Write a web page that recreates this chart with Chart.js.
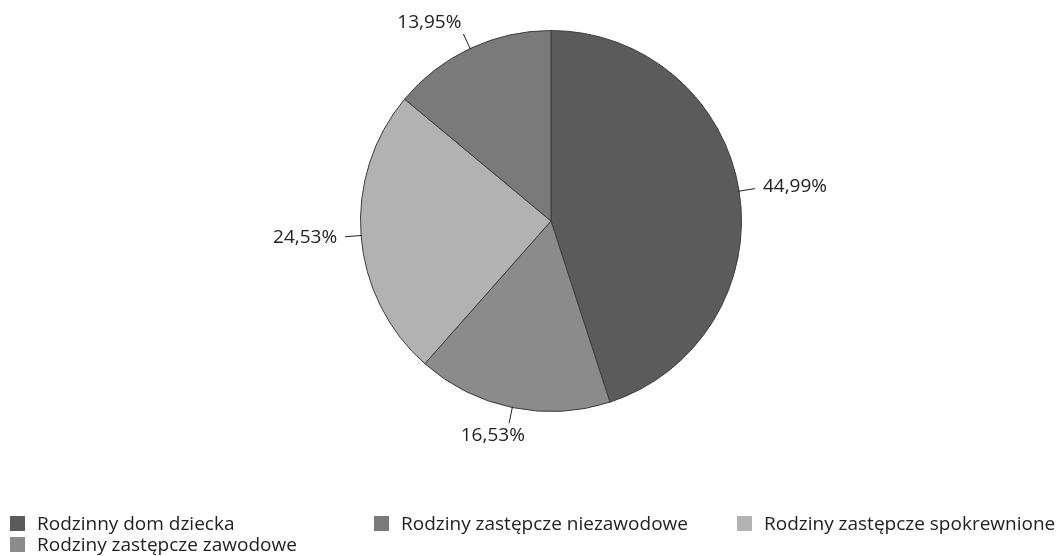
<!DOCTYPE html>
<html>
<head>
<meta charset="utf-8">
<script src="https://cdn.jsdelivr.net/npm/chart.js@4.4.1/dist/chart.umd.min.js"></script>
<style>
  html, body { margin: 0; padding: 0; background: #fff; }
  #wrap { position: relative; width: 1063px; height: 556px; }
  #legend { position: absolute; left: 10px; top: 510px; font-family: "Open Sans", sans-serif; font-size: 19px; color: #222; }
  .item { position: absolute; white-space: nowrap; display: flex; align-items: center; line-height: 26px; }
  .box { width: 15px; height: 15px; margin-right: 12px; }
</style>
</head>
<body>
<div id="wrap">
  <canvas id="pieChart" width="1063" height="556"></canvas>
  <div id="legend"></div>
</div>
<script>
// Data
const categories = ["Rodzinny dom dziecka", "Rodziny zastępcze zawodowe", "Rodziny zastępcze spokrewnione", "Rodziny zastępcze niezawodowe"];
const shares = [44.99, 16.53, 24.53, 13.95];
const sliceColors = ["#5b5b5b", "#8b8b8b", "#b2b2b2", "#7a7a7a"];

// legend order and grid placement as in the scan
const legendOrder = [0, 3, 2, 1];
const legendPos = [[0, 0], [364, 0], [727, 0], [0, 21]];

// Leader lines + percentage labels
const pctLabels = {
    id: "pctLabels",
    afterDatasetsDraw(chart) {
        const ctx = chart.ctx;
        const meta = chart.getDatasetMeta(0);
        ctx.save();
        ctx.font = "19px 'Open Sans', sans-serif";
        ctx.fillStyle = "#222";
        ctx.strokeStyle = "#222";
        ctx.lineWidth = 1;
        meta.data.forEach((arc, i) => {
            const mid = (arc.startAngle + arc.endAngle) / 2;
            const dx = Math.cos(mid), dy = Math.sin(mid);
            const r = arc.outerRadius;
            const x1 = arc.x + dx * (r - 1), y1 = arc.y + dy * (r - 1);
            const x2 = arc.x + dx * (r + 16), y2 = arc.y + dy * (r + 16);
            ctx.beginPath();
            ctx.moveTo(x1, y1);
            ctx.lineTo(x2, y2);
            ctx.stroke();
            const txt = shares[i].toFixed(2).replace(".", ",") + "%";
            const hw = ctx.measureText(txt).width / 2 + 8;
            const hh = 13;
            const fx = Math.max(-1, Math.min(1, dx * 2));
            ctx.textAlign = "center";
            ctx.textBaseline = "middle";
            ctx.fillText(txt, x2 + fx * hw, y2 + dy * hh);
        });
        ctx.restore();
    }
};

new Chart(document.getElementById("pieChart"), {
    type: "pie",
    data: {
        labels: categories,
        datasets: [{
            data: shares,
            backgroundColor: sliceColors,
            borderColor: "#3d3d3d",
            borderWidth: 1
        }]
    },
    options: {
        responsive: false,
        animation: false,
        layout: { padding: { top: 30, bottom: 144, left: 40, right: 1 } },
        plugins: {
            legend: { display: false },
            tooltip: { enabled: false }
        }
    },
    plugins: [pctLabels]
});

// HTML legend
const legendEl = document.getElementById("legend");
legendOrder.forEach((idx, k) => {
    const item = document.createElement("div");
    item.className = "item";
    item.style.left = legendPos[k][0] + "px";
    item.style.top = legendPos[k][1] + "px";
    item.innerHTML = '<span class="box" style="background:' + sliceColors[idx] + '"></span>' + categories[idx];
    legendEl.appendChild(item);
});
</script>
</body>
</html>
